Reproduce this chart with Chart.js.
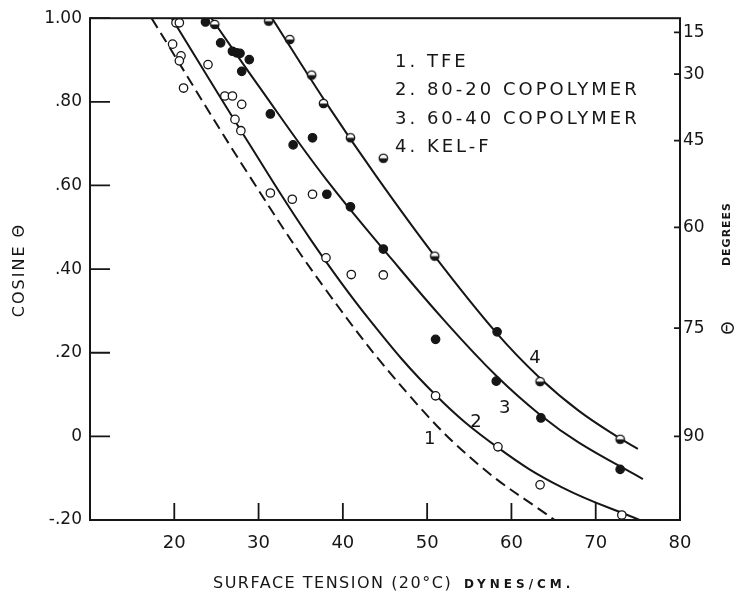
<!DOCTYPE html>
<html>
<head>
<meta charset="utf-8">
<script src="https://cdn.jsdelivr.net/npm/chart.js@4.4.1/dist/chart.umd.min.js"></script>
<style>
  html,body{margin:0;padding:0;background:#fff;}
  #wrap{width:745px;height:593px;position:relative;}
</style>
</head>
<body>
<div id="wrap"><canvas id="chart"></canvas></div>
<script>
// axis ticks
const xTickValues = [20, 30, 40, 50, 60, 70, 80];
const yTickValues = [-0.2, 0, 0.2, 0.4, 0.6, 0.8, 1.0];
const yTickLabels = ['-.20', '0', '.20', '.40', '.60', '.80', '1.00'];
const degreeTicks = [15, 30, 45, 60, 75, 90];

// fitted curves [surface tension, cos theta]
const curve1 = [[17.3,1.0],[29,0.62],[38,0.35],[47.8,0.10],[56,-0.066],[65.4,-0.204]];
const curve2 = [[19.7,1.0],[29,0.696],[36.1,0.473],[43.2,0.278],[51,0.099],[58.4,-0.027],[66,-0.122],[75.2,-0.200]];
const curve3 = [[24.4,1.0],[30,0.838],[38,0.615],[46,0.419],[52,0.278],[58.2,0.145],[63.5,0.05],[68,-0.015],[75.6,-0.102]];
const curve4 = [[31.6,1.0],[38,0.798],[44,0.621],[50.9,0.431],[58.2,0.248],[63.4,0.139],[68,0.061],[72.9,-0.005],[75,-0.03]];

// measured points
const openPts = [[20.2,0.989],[20.6,0.989],[19.8,0.938],[20.8,0.91],[20.6,0.898],[21.1,0.833],[24.0,0.889],[26.0,0.814],[26.9,0.814],[28.0,0.794],[27.2,0.758],[27.9,0.731],[31.4,0.582],[34.0,0.567],[36.4,0.579],[38.0,0.427],[41.0,0.387],[44.8,0.386],[51.0,0.097],[58.4,-0.025],[63.4,-0.116],[73.1,-0.188]];
const filledPts = [[23.7,0.991],[25.5,0.941],[26.9,0.921],[27.4,0.917],[27.8,0.916],[28.9,0.901],[28.0,0.873],[31.4,0.771],[34.1,0.697],[36.4,0.714],[38.1,0.579],[40.9,0.549],[44.8,0.448],[51.0,0.232],[58.3,0.25],[58.2,0.132],[63.5,0.044],[72.9,-0.079]];
const halfPts = [[24.8,0.985],[31.2,0.993],[33.7,0.949],[36.3,0.864],[37.7,0.796],[40.9,0.714],[44.8,0.665],[50.9,0.431],[63.4,0.131],[72.9,-0.007]];

// curve numbers and legend lines
const curveLabels = [['1',50.3,-0.006],['2',55.8,0.034],['3',59.2,0.068],['4',62.8,0.187]];
const legendLines = ['1. TFE', '2. 80-20 COPOLYMER', '3. 60-40 COPOLYMER', '4. KEL-F'];

const INK = '#161616';
const toXY = arr => arr.map(p => ({x:p[0], y:p[1]}));

function halfCircle(r){
  const c = document.createElement('canvas');
  const s = Math.ceil(2*r + 4);
  c.width = s; c.height = s;
  const g = c.getContext('2d');
  const m = s/2;
  g.beginPath(); g.arc(m,m,r,0,2*Math.PI); g.fillStyle='#fff'; g.fill();
  g.beginPath(); g.arc(m,m,r,0,Math.PI); g.closePath(); g.fillStyle=INK; g.fill();
  g.beginPath(); g.arc(m,m,r,0,2*Math.PI); g.lineWidth=1.3; g.strokeStyle=INK; g.stroke();
  return c;
}

function lineSet(arr, dash){
  return {
    data: toXY(arr), showLine:true, pointRadius:0, borderColor:INK, borderWidth:2,
    borderDash: dash || [], tension:0.4, fill:false, order:1
  };
}
function pointSet(arr, bg, style){
  return {
    data: toXY(arr), showLine:false, pointRadius:4.2, pointStyle: style || 'circle',
    pointBackgroundColor:bg, pointBorderColor:INK, pointBorderWidth:1.3, order:0
  };
}

// frame, inward ticks, and the text labels
const decor = {
  id:'decor',
  afterDraw(chart){
    const {ctx, chartArea:a, scales} = chart;
    ctx.save();
    ctx.strokeStyle = INK; ctx.lineWidth = 2;
    ctx.strokeRect(a.left, a.top, a.right-a.left, a.bottom-a.top);
    ctx.lineWidth = 1.8;
    ctx.beginPath();
    yTickValues.forEach(v => { const y = scales.y.getPixelForValue(v); ctx.moveTo(a.left, y); ctx.lineTo(a.left+20, y); });
    xTickValues.forEach(v => { const x = scales.x.getPixelForValue(v); ctx.moveTo(x, a.bottom); ctx.lineTo(x, a.bottom-17); });
    degreeTicks.forEach(d => { const y = scales.y2.getPixelForValue(Math.cos(d*Math.PI/180)); ctx.moveTo(a.right-6, y); ctx.lineTo(a.right, y); });
    ctx.stroke();

    ctx.fillStyle = INK;
    ctx.textBaseline = 'middle';
    // curve numbers
    ctx.font = '18px "DejaVu Sans"';
    ctx.textAlign = 'center';
    curveLabels.forEach(l => ctx.fillText(l[0], scales.x.getPixelForValue(l[1]), scales.y.getPixelForValue(l[2])));

    // legend text
    ctx.textAlign = 'left';
    ctx.letterSpacing = '3px';
    ctx.font = '18px "DejaVu Sans"';
    legendLines.forEach((t,i) => ctx.fillText(t, 395, 62 + i*28.5));

    // x title
    ctx.letterSpacing = '1.5px';
    ctx.font = '16px "DejaVu Sans"';
    ctx.fillText('SURFACE TENSION (20°C)', 213, 584);
    ctx.letterSpacing = '4px';
    ctx.font = 'bold 12px "DejaVu Sans"';
    ctx.fillText('DYNES/CM.', 464, 585);

    // left title
    ctx.save();
    ctx.translate(20, 270); ctx.rotate(-Math.PI/2);
    ctx.textAlign = 'center';
    ctx.letterSpacing = '2px';
    ctx.font = '16px "DejaVu Sans"';
    ctx.fillText('COSINE Θ', 0, 0);
    ctx.restore();

    // right title
    ctx.save();
    ctx.translate(727, 234); ctx.rotate(-Math.PI/2);
    ctx.textAlign = 'center';
    ctx.letterSpacing = '1px';
    ctx.font = 'bold 11px "DejaVu Sans"';
    ctx.fillText('DEGREES', 0, 0);
    ctx.restore();
    ctx.save();
    ctx.translate(730, scales.y2.getPixelForValue(Math.cos(75*Math.PI/180))); ctx.rotate(-Math.PI/2);
    ctx.textAlign = 'center';
    ctx.letterSpacing = '0px';
    ctx.font = '17px "DejaVu Sans"';
    ctx.fillText('Θ', 0, 0);
    ctx.restore();
    ctx.restore();
  }
};

Chart.defaults.font.family = '"DejaVu Sans"';
Chart.defaults.color = INK;

new Chart(document.getElementById('chart'), {
  type:'scatter',
  data:{
    datasets:[
      pointSet(openPts, '#fff'),
      pointSet(filledPts, INK),
      pointSet(halfPts, '#fff', halfCircle(4.2)),
      lineSet(curve1, [11,6]),
      lineSet(curve2),
      lineSet(curve3),
      lineSet(curve4)
    ]
  },
  options:{
    responsive:true,
    maintainAspectRatio:false,
    animation:false,
    layout:{ padding:{ top:18 } },
    plugins:{ legend:{ display:false }, tooltip:{ enabled:false } },
    scales:{
      x:{
        type:'linear', position:'bottom', min:10, max:80,
        grid:{ display:false, drawTicks:false }, border:{ display:false },
        afterBuildTicks: s => { s.ticks = xTickValues.map(v => ({value:v})); },
        afterFit: s => { s.height = 73; },
        ticks:{ font:{ size:18 }, padding:13, maxRotation:0, autoSkip:false }
      },
      y:{
        type:'linear', position:'left', min:-0.2, max:1.0,
        grid:{ display:false, drawTicks:false }, border:{ display:false },
        afterBuildTicks: s => { s.ticks = yTickValues.map(v => ({value:v})); },
        afterFit: s => { s.width = 90; },
        ticks:{ font:{ size:17 }, padding:8, autoSkip:false,
          callback:(v,i) => yTickLabels[i] }
      },
      y2:{
        type:'linear', position:'right', min:-0.2, max:1.0,
        grid:{ display:false, drawTicks:false }, border:{ display:false },
        afterBuildTicks: s => { s.ticks = degreeTicks.map(d => ({value:Math.cos(d*Math.PI/180)})); },
        afterFit: s => { s.width = 65; },
        ticks:{ font:{ size:17 }, padding:3, autoSkip:false,
          callback:(v,i) => String(degreeTicks[i]) }
      }
    }
  },
  plugins:[decor]
});
</script>
</body>
</html>
